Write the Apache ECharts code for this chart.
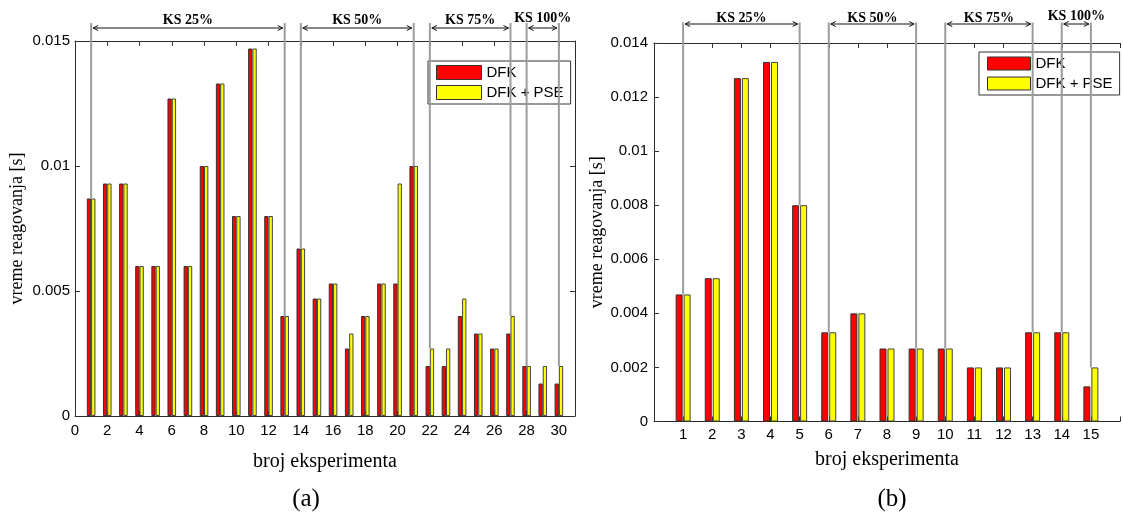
<!DOCTYPE html>
<html>
<head>
<meta charset="utf-8">
<script src="https://cdn.jsdelivr.net/npm/echarts@6/dist/echarts.min.js"></script>
<style>
html,body{margin:0;padding:0;background:#fff;}
#c{width:1123px;height:519px;}
</style>
</head>
<body>
<div id="c"></div>
<script>
// ---------- data ----------
const seriesNames = ['DFK', 'DFK + PSE'];

// (a) 30 experiments
const leftDFK = [0.0087, 0.0093, 0.0093, 0.006, 0.006, 0.0127, 0.006, 0.01, 0.0133, 0.008,
                 0.0147, 0.008, 0.004, 0.0067, 0.0047, 0.0053, 0.0027, 0.004, 0.0053, 0.0053,
                 0.01, 0.002, 0.002, 0.004, 0.0033, 0.0027, 0.0033, 0.002, 0.0013, 0.0013];
const leftPSE = [0.0087, 0.0093, 0.0093, 0.006, 0.006, 0.0127, 0.006, 0.01, 0.0133, 0.008,
                 0.0147, 0.008, 0.004, 0.0067, 0.0047, 0.0053, 0.0033, 0.004, 0.0053, 0.0093,
                 0.01, 0.0027, 0.0027, 0.0047, 0.0033, 0.0027, 0.004, 0.002, 0.002, 0.002];

// (b) 15 experiments
const rightDFK = [0.0047, 0.0053, 0.0127, 0.0133, 0.008, 0.0033, 0.004, 0.0027, 0.0027, 0.0027,
                  0.002, 0.002, 0.0033, 0.0033, 0.0013];
const rightPSE = [0.0047, 0.0053, 0.0127, 0.0133, 0.008, 0.0033, 0.004, 0.0027, 0.0027, 0.0027,
                  0.002, 0.002, 0.0033, 0.0033, 0.002];

// KS groups
const groupLabels = ['KS 25%', 'KS 50%', 'KS 75%', 'KS 100%'];
const leftGroupStart = [1, 14, 22, 28];
const leftGroupEnd = [13, 21, 27, 30];
const rightGroupStart = [1, 6, 10, 14];
const rightGroupEnd = [5, 9, 13, 15];

// axis ranges / ticks
const leftXMax = 31, leftXInterval = 2;
const leftYMax = 0.015, leftYInterval = 0.005;
const rightXMax = 16, rightXInterval = 1;
const rightYMax = 0.014, rightYInterval = 0.002;

const xTitle = 'broj eksperimenta';
const yTitle = 'vreme reagovanja [s]';
const panelLabels = ['(a)', '(b)'];

// ---------- styles ----------
const SANS = '"Liberation Sans", Arial, sans-serif';
const SERIF = '"Liberation Serif", "Times New Roman", serif';
const AXIS_COLOR = '#2a2a2a';
const RED = '#ff0000', YELLOW = '#ffff00';

function toPairs(arr) { return arr.map((v, i) => [i + 1, v]); }
function yFmt(v) { return v === 0 ? '0' : String(+v.toFixed(4)); }

function annoRenderer(dfk, pse, off) {
  return function (params, api) {
    const s = api.value(0), e = api.value(1);
    const top = params.coordSys.y;
    const xs = api.coord([s, 0])[0];
    const xe = api.coord([e, 0])[0];
    const ys = api.coord([s, Math.max(dfk[s - 1], pse[s - 1])])[1];
    const ye = api.coord([e, Math.max(dfk[e - 1], pse[e - 1])])[1];
    const lineTop = top - off.line;
    const ay = top - off.arrow;
    let ty = top - off.text;
    if (xe - xs < 50) ty -= 2;
    const grey = { stroke: '#9c9c9c', lineWidth: 2, fill: null };
    const blk = { stroke: '#111', lineWidth: 1, fill: null };
    const h = 5, w = 2.5;
    const a1 = xs + 2, a2 = xe - 2;
    return {
      type: 'group',
      children: [
        { type: 'line', shape: { x1: xs, y1: lineTop, x2: xs, y2: ys }, style: grey },
        { type: 'line', shape: { x1: xe, y1: lineTop, x2: xe, y2: ye }, style: grey },
        { type: 'line', shape: { x1: a1, y1: ay, x2: a2, y2: ay }, style: blk },
        { type: 'polyline', shape: { points: [[a1 + h, ay - w], [a1, ay], [a1 + h, ay + w]] }, style: blk },
        { type: 'polyline', shape: { points: [[a2 - h, ay - w], [a2, ay], [a2 - h, ay + w]] }, style: blk },
        { type: 'text', style: { text: groupLabels[params.dataIndex], x: (xs + xe) / 2, y: ty,
            align: 'center', verticalAlign: 'middle', fontFamily: SERIF, fontWeight: 'bold',
            fontSize: 14, fill: '#000' } }
      ]
    };
  };
}

function groupData(starts, ends) { return starts.map((s, i) => [s, ends[i]]); }

const tickStyle = { show: true, inside: true, length: 5, lineStyle: { color: '#333', width: 1 } };
const axLine = { show: true, onZero: false, lineStyle: { color: AXIS_COLOR, width: 1 } };
const labelStyle = { color: '#000', fontFamily: SANS, fontSize: 15 };

const option = {
  animation: false,
  backgroundColor: '#fff',
  title: [
    { text: panelLabels[0], left: 301, top: 482, textAlign: 'center',
      textStyle: { fontFamily: SERIF, fontSize: 25, fontWeight: 'normal', color: '#000' } },
    { text: panelLabels[1], left: 887, top: 482, textAlign: 'center',
      textStyle: { fontFamily: SERIF, fontSize: 25, fontWeight: 'normal', color: '#000' } }
  ],
  legend: [
    { data: seriesNames, orient: 'vertical', left: 428, top: 61, padding: [4, 7, 4, 8],
      itemGap: 5, itemWidth: 45, itemHeight: 14, icon: 'rect', borderColor: '#333', borderWidth: 1,
      backgroundColor: '#fff', textStyle: { fontFamily: SANS, fontSize: 15, color: '#000' },
      itemStyle: { borderColor: '#333', borderWidth: 1 } },
    { data: seriesNames, orient: 'vertical', left: 979, top: 52, padding: [4, 7, 4, 8],
      itemGap: 5, itemWidth: 43, itemHeight: 13, icon: 'rect', borderColor: '#333', borderWidth: 1,
      backgroundColor: '#fff', textStyle: { fontFamily: SANS, fontSize: 15, color: '#000' },
      itemStyle: { borderColor: '#333', borderWidth: 1 } }
  ],
  grid: [
    { left: 75, top: 41, width: 500, height: 375, show: false },
    { left: 654, top: 43, width: 474, height: 378.5, show: false }
  ],
  xAxis: [
    { gridIndex: 0, type: 'value', min: 0, max: leftXMax, interval: leftXInterval, position: 'bottom',
      name: xTitle, nameLocation: 'middle', nameGap: 36,
      nameTextStyle: { fontFamily: SERIF, fontSize: 20, color: '#000' },
      axisLine: axLine, axisTick: tickStyle, splitLine: { show: false },
      axisLabel: { ...labelStyle, margin: 7, formatter: v => (v % leftXInterval === 0 ? String(v) : '') } },
    { gridIndex: 0, type: 'value', min: 0, max: leftXMax, interval: leftXInterval, position: 'top',
      axisLine: axLine, axisTick: tickStyle, splitLine: { show: false },
      axisLabel: { show: false } },
    { gridIndex: 1, type: 'value', min: 0, max: rightXMax, interval: rightXInterval, position: 'bottom',
      name: xTitle, nameLocation: 'middle', nameGap: 28,
      nameTextStyle: { fontFamily: SERIF, fontSize: 20, color: '#000' },
      axisLine: axLine, axisTick: tickStyle, splitLine: { show: false },
      axisLabel: { ...labelStyle, margin: 6, formatter: v => (v >= 1 && v <= 15 ? String(v) : '') } },
    { gridIndex: 1, type: 'value', min: 0, max: rightXMax, interval: rightXInterval, position: 'top',
      axisLine: axLine, axisTick: tickStyle, splitLine: { show: false },
      axisLabel: { show: false } }
  ],
  yAxis: [
    { gridIndex: 0, type: 'value', min: 0, max: leftYMax, interval: leftYInterval, position: 'left',
      name: yTitle, nameLocation: 'middle', nameGap: 49, nameRotate: 90,
      nameTextStyle: { fontFamily: SERIF, fontSize: 18, color: '#000' },
      axisLine: axLine, axisTick: tickStyle, splitLine: { show: false },
      axisLabel: { ...labelStyle, margin: 5, formatter: yFmt } },
    { gridIndex: 0, type: 'value', min: 0, max: leftYMax, interval: leftYInterval, position: 'right',
      axisLine: axLine, axisTick: tickStyle, splitLine: { show: false },
      axisLabel: { show: false } },
    { gridIndex: 1, type: 'value', min: 0, max: rightYMax, interval: rightYInterval, position: 'left',
      name: yTitle, nameLocation: 'middle', nameGap: 46, nameRotate: 90,
      nameTextStyle: { fontFamily: SERIF, fontSize: 18, color: '#000' },
      axisLine: axLine, axisTick: tickStyle, splitLine: { show: false },
      axisLabel: { ...labelStyle, margin: 6, formatter: yFmt } }
  ],
  series: [
    { name: seriesNames[0], type: 'bar', xAxisIndex: 0, yAxisIndex: 0, data: toPairs(leftDFK),
      barWidth: 4.3, barGap: '0%', itemStyle: { color: RED, borderColor: '#333', borderWidth: 1 } },
    { name: seriesNames[1], type: 'bar', xAxisIndex: 0, yAxisIndex: 0, data: toPairs(leftPSE),
      barWidth: 4.3, barGap: '0%', itemStyle: { color: YELLOW, borderColor: '#444', borderWidth: 1 } },
    { name: seriesNames[0], type: 'bar', xAxisIndex: 2, yAxisIndex: 2, data: toPairs(rightDFK),
      barWidth: 7, barGap: '14%', itemStyle: { color: RED, borderColor: '#333', borderWidth: 1 } },
    { name: seriesNames[1], type: 'bar', xAxisIndex: 2, yAxisIndex: 2, data: toPairs(rightPSE),
      barWidth: 7, barGap: '14%', itemStyle: { color: YELLOW, borderColor: '#444', borderWidth: 1 } },
    { type: 'custom', xAxisIndex: 0, yAxisIndex: 0, clip: false, silent: true, z: 5,
      data: groupData(leftGroupStart, leftGroupEnd),
      renderItem: annoRenderer(leftDFK, leftPSE, { line: 18, arrow: 13, text: 21 }) },
    { type: 'custom', xAxisIndex: 2, yAxisIndex: 2, clip: false, silent: true, z: 5,
      data: groupData(rightGroupStart, rightGroupEnd),
      renderItem: annoRenderer(rightDFK, rightPSE, { line: 20.5, arrow: 19, text: 25 }) }
  ]
};

const chart = echarts.init(document.getElementById('c'), null, { renderer: 'canvas' });
chart.setOption(option);
</script>
</body>
</html>
